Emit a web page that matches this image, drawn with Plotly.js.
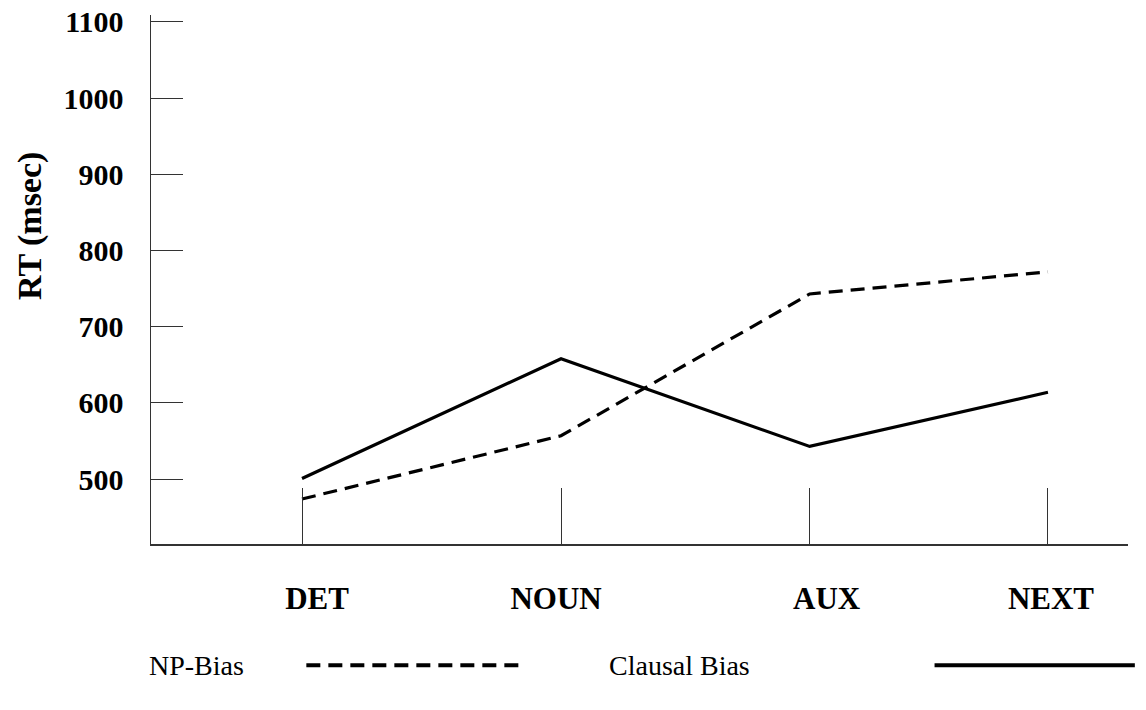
<!DOCTYPE html>
<html>
<head>
<meta charset="utf-8">
<script src="https://cdn.plot.ly/plotly-3.0.1.min.js"></script>
<style>html,body{margin:0;padding:0;background:#fff;}#chart{width:1146px;height:710px;}</style>
</head>
<body>
<div id="chart"></div>
<script>
// Categories (word regions) and their positions along the x axis (unequal spacing as in the figure)
var categories = ["DET", "NOUN", "AUX", "NEXT"];
var categoryPos = [1, 2, 2.96, 3.88];

// Series values (RT in msec)
var npBias = [474, 557, 743, 772];
var clausalBias = [501, 658, 543, 614];
var seriesNames = ["NP-Bias", "Clausal Bias"];

// Y tick values
var yTicks = [500, 600, 700, 800, 900, 1000, 1100];

var serif = "Liberation Serif, Times New Roman, serif";

// label placement nudges (pixels) as printed under each tick in the figure
var labelNudgePx = [15, -5, 17, 3];
var pxPerUnit = 259;
var labelPos = categoryPos.map(function (v, i) { return v + labelNudgePx[i] / pxPerUnit; });

var traces = [
  {x: categoryPos, y: npBias, name: seriesNames[0], mode: "lines", type: "scatter",
   line: {color: "#000", width: 3.2, dash: "14px,8px"}, showlegend: false, hoverinfo: "skip"},
  {x: categoryPos, y: clausalBias, name: seriesNames[1], mode: "lines", type: "scatter",
   line: {color: "#000", width: 3.2}, showlegend: false, hoverinfo: "skip"},
  {x: categoryPos, y: clausalBias, xaxis: "x2", mode: "none", type: "scatter",
   showlegend: false, hoverinfo: "skip"}
];

var xRange = [0.417, 4.189];

var layout = {
  width: 1146, height: 710,
  paper_bgcolor: "#fff", plot_bgcolor: "#fff",
  margin: {l: 151, r: 18, t: 15, b: 166},
  font: {family: serif, color: "#000"},
  xaxis: {
    range: xRange, showgrid: false, zeroline: false,
    showline: true, linecolor: "#333", linewidth: 1.5,
    tickmode: "array", tickvals: categoryPos, showticklabels: false,
    ticks: "inside", ticklen: 56, tickwidth: 1, tickcolor: "#333"
  },
  xaxis2: {
    range: xRange, overlaying: "x", anchor: "y", side: "bottom",
    showgrid: false, zeroline: false, showline: false,
    tickmode: "array", tickvals: labelPos, ticktext: categories,
    ticks: "", ticklabelstandoff: 33,
    tickfont: {family: serif, size: 31, color: "#000", weight: "bold"}
  },
  yaxis: {
    range: [415, 1109], showgrid: false, zeroline: false,
    showline: true, linecolor: "#333", linewidth: 1.5,
    tickmode: "array", tickvals: yTicks,
    ticks: "inside", ticklen: 32, tickwidth: 1, tickcolor: "#333",
    ticklabelstandoff: 20,
    tickfont: {family: serif, size: 30, color: "#000", weight: "bold"}
  },
  annotations: [
    {text: "<b>RT (msec)</b>", textangle: -90, xref: "paper", yref: "paper",
     x: -0.124, y: 0.601, xanchor: "center", yanchor: "middle", showarrow: false,
     font: {family: serif, size: 34, color: "#000"}},
    {text: seriesNames[0], xref: "paper", yref: "paper", x: -0.004, y: -0.229,
     xanchor: "left", yanchor: "middle", showarrow: false,
     font: {family: serif, size: 28, color: "#000"}},
    {text: seriesNames[1], xref: "paper", yref: "paper", x: 0.467, y: -0.229,
     xanchor: "left", yanchor: "middle", showarrow: false,
     font: {family: serif, size: 28, color: "#000"}}
  ],
  shapes: [
    {type: "line", xref: "paper", yref: "paper", x0: 0.159, x1: 0.378, y0: -0.229, y1: -0.229,
     line: {color: "#000", width: 4, dash: "14px,8px"}},
    {type: "line", xref: "paper", yref: "paper", x0: 0.802, x1: 1.007, y0: -0.229, y1: -0.229,
     line: {color: "#000", width: 4}}
  ]
};

Plotly.newPlot("chart", traces, layout, {displayModeBar: false, staticPlot: true});
</script>
</body>
</html>
